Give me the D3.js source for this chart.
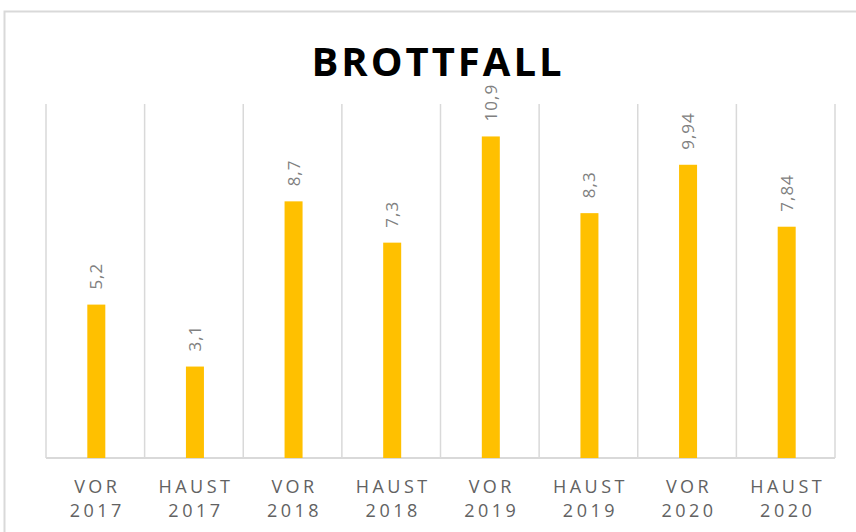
<!DOCTYPE html>
<html>
<head>
<meta charset="utf-8">
<script src="https://cdn.jsdelivr.net/npm/d3@7"></script>
<style>
	body { margin: 0; background: #fff; }
	svg { display: block; }
</style>
</head>
<body>
<div id="chart"></div>
<script>
const periods = ["VOR", "HAUST", "VOR", "HAUST", "VOR", "HAUST", "VOR", "HAUST"];
const years = ["2017", "2017", "2018", "2018", "2019", "2019", "2020", "2020"];
const values = [5.2, 3.1, 8.7, 7.3, 10.9, 8.3, 9.94, 7.84];
const valueLabels = ["5,2", "3,1", "8,7", "7,3", "10,9", "8,3", "9,94", "7,84"];

const WIDTH = 856;
const HEIGHT = 532;
const margin = { top: 104, right: 21, bottom: 74, left: 46 };

var svg = d3.select("#chart").append("svg")
	.attr("width", WIDTH)
	.attr("height", HEIGHT);

// chart frame (right and bottom edges fall outside the picture)
svg.append("path")
	.attr("d", "M4.5 " + HEIGHT + " V11.5 H" + WIDTH)
	.attr("fill", "none")
	.attr("stroke", "#d9d9d9")
	.attr("stroke-width", 2);

svg.append("text")
	.attr("x", 438)
	.attr("y", 76)
	.attr("text-anchor", "middle")
	.style("font-family", "'Open Sans', sans-serif")
	.style("font-weight", "bold")
	.style("font-size", "40px")
	.style("letter-spacing", "3px")
	.attr("fill", "#000")
	.text("BROTTFALL");

var idx = d3.range(values.length);
var x = d3.scaleBand()
	.domain(idx)
	.range([margin.left, WIDTH - margin.right]);
var y = d3.scaleLinear()
	.domain([0, 12])
	.range([HEIGHT - margin.bottom, margin.top]);

var g = svg.append("g");

// vertical gridlines between categories
var edges = idx.map(function(i) { return x(i); }).concat([x(idx.length - 1) + x.bandwidth()]);
g.selectAll(".grid")
	.data(edges)
	.enter().append("line")
	.attr("class", "grid")
	.attr("x1", function(d) { return d; })
	.attr("x2", function(d) { return d; })
	.attr("y1", y(12))
	.attr("y2", y(0))
	.attr("stroke", "#d9d9d9")
	.attr("stroke-width", 1.5);

g.append("line")
	.attr("x1", x.range()[0])
	.attr("x2", x.range()[1])
	.attr("y1", y(0))
	.attr("y2", y(0))
	.attr("stroke", "#d9d9d9")
	.attr("stroke-width", 2);

var barW = 18;
g.selectAll(".bar")
	.data(idx)
	.enter().append("rect")
	.attr("class", "bar")
	.attr("x", function(i) { return x(i) + x.bandwidth() / 2 - barW / 2 + 1; })
	.attr("y", function(i) { return y(values[i]); })
	.attr("width", barW)
	.attr("height", function(i) { return y(0) - y(values[i]); })
	.attr("fill", "#ffc000");

// value labels, rotated
g.selectAll(".val")
	.data(idx)
	.enter().append("text")
	.attr("class", "val")
	.attr("transform", function(i) {
		var cx = x(i) + x.bandwidth() / 2 + 1;
		return "translate(" + (cx + 6) + "," + (y(values[i]) - 15) + ") rotate(-90)";
	})
	.style("font-family", "'Open Sans', sans-serif")
	.style("font-size", "17px")
	.style("letter-spacing", "1px")
	.attr("fill", "#808080")
	.text(function(i) { return valueLabels[i]; });

// category labels
var cat = g.selectAll(".cat")
	.data(idx)
	.enter().append("text")
	.attr("class", "cat")
	.attr("text-anchor", "middle")
	.style("font-family", "'Open Sans', sans-serif")
	.style("font-size", "18px")
	.style("letter-spacing", "3.5px")
	.attr("fill", "#626262");
cat.append("tspan")
	.attr("x", function(i) { return x(i) + x.bandwidth() / 2 + 2; })
	.attr("y", 493)
	.text(function(i) { return periods[i]; });
cat.append("tspan")
	.attr("x", function(i) { return x(i) + x.bandwidth() / 2 + 2; })
	.attr("y", 517)
	.text(function(i) { return years[i]; });
</script>
</body>
</html>
